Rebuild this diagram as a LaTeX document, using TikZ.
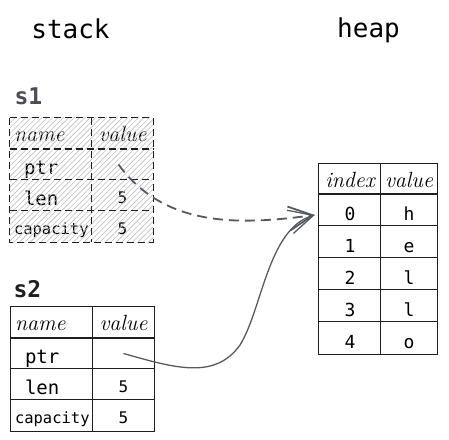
\documentclass[tikz,border=0pt]{standalone}
\usepackage{fontspec}
\setmonofont{DejaVu Sans Mono}
\usepackage{tikz}
\usetikzlibrary{arrows.meta,patterns.meta}

\definecolor{ink}{HTML}{1E1E1E}
\definecolor{pointer}{HTML}{555A62}
\definecolor{slabel}{HTML}{4A4D55}

\tikzset{
  title/.style={font=\fontsize{26}{26}\selectfont\ttfamily,anchor=base},
  var/.style={font=\fontsize{23}{23}\selectfont\ttfamily\bfseries,anchor=base west},
  namecell/.style={minimum width=82pt,minimum height=31pt,text width=74pt,align=left,inner sep=0pt},
  valcell/.style={minimum width=61pt,minimum height=31pt,inner sep=0pt},
  idxcell/.style={minimum width=62pt,minimum height=32pt,inner sep=0pt},
  hvalcell/.style={minimum width=56pt,minimum height=32pt,inner sep=0pt},
  hand/.style={font=\fontsize{22}{22}\selectfont\itshape,text height=16pt,text depth=0pt},
  code/.style={font=\fontsize{19}{19}\selectfont\ttfamily,text height=19pt,text depth=0pt},
  small code/.style={font=\fontsize{15.5}{15.5}\selectfont\ttfamily,text height=16pt,text depth=0pt},
  digit/.style={font=\fontsize{16}{16}\selectfont\ttfamily,text height=15pt,text depth=0pt},
  hcode/.style={font=\fontsize{18}{18}\selectfont\ttfamily,text height=21pt,text depth=0pt},
  grid/.style={draw=ink,line width=0.8pt},
  head/.style={draw=ink,line width=1.6pt},
  sdash/.style={draw=ink,line width=1.1pt,dash pattern=on 7pt off 4pt}
}

\begin{document}
\begin{tikzpicture}[x=1pt,y=-1pt]
\useasboundingbox (0,0) rectangle (449,439);

   \draw (70.5,38) node[title] (stack) {stack};
   \draw (368.5,37) node[title] (heap) {heap};

   \draw (11,104) node[var,text=slabel] (s1) {s1};
   \draw (51,133.5) node[namecell,hand] (s1name) {name};
     \draw (122.5,133.5) node[valcell,hand] (s1value) {value};
   \draw (51,164.5) node[namecell,code] (s1ptr) {\hspace*{10pt}ptr};
     \draw (122.5,164.5) node[valcell] (s1ptrv) {};
   \draw (51,195.5) node[namecell,code] (s1len) {\hspace*{10pt}len};
     \draw (122.5,195.5) node[valcell,digit] (s1lenv) {5};
   \draw (51,226.5) node[namecell,small code] (s1cap) {capacity};
     \draw (122.5,226.5) node[valcell,digit] (s1capv) {5};

   \draw (10,297) node[var,text=ink] (s2) {s2};
   \draw (52,322.5) node[namecell,hand] (s2name) {name};
     \draw (123.5,322.5) node[valcell,hand] (s2value) {value};
   \draw (52,353.5) node[namecell,code] (s2ptr) {\hspace*{10pt}ptr};
     \draw (123.5,353.5) node[valcell] (s2ptrv) {};
   \draw (52,384.5) node[namecell,code] (s2len) {\hspace*{10pt}len};
     \draw (123.5,384.5) node[valcell,digit] (s2lenv) {5};
   \draw (52,415.5) node[namecell,small code] (s2cap) {capacity};
     \draw (123.5,415.5) node[valcell,digit] (s2capv) {5};

   \draw (350,179) node[idxcell,minimum height=30pt,hand] (index) {index};
     \draw (409,179) node[hvalcell,minimum height=30pt,hand] (hvalue) {value};
   \draw (350,210) node[idxcell,hcode] (h0) {0};
     \draw (409,210) node[hvalcell,hcode] (c0) {h};
   \draw (350,242) node[idxcell,hcode] (h1) {1};
     \draw (409,242) node[hvalcell,hcode] (c1) {e};
   \draw (350,274) node[idxcell,hcode] (h2) {2};
     \draw (409,274) node[hvalcell,hcode] (c2) {l};
   \draw (350,306) node[idxcell,hcode] (h3) {3};
     \draw (409,306) node[hvalcell,hcode] (c3) {l};
   \draw (350,338) node[idxcell,hcode] (h4) {4};
     \draw (409,338) node[hvalcell,hcode] (c4) {o};

   \fill[pattern={Lines[angle=45,distance=3.8pt,line width=0.6pt]},pattern color=gray!50] (s1name.north west) rectangle (s1capv.south east);
   \draw[sdash] (s1name.north west) rectangle (s1capv.south east);
   \draw[sdash] (s1value.north west) -- (s1capv.south west);
   \draw[sdash,line width=1.8pt] (s1ptr.north west) -- (s1ptrv.north east);
   \draw[sdash] (s1len.north west) -- (s1lenv.north east);
   \draw[sdash] (s1cap.north west) -- (s1capv.north east);

   \draw[grid] (s2name.north west) rectangle (s2capv.south east);
   \draw[grid] (s2value.north west) -- (s2capv.south west);
   \draw[head] (s2ptr.north west) -- (s2ptrv.north east);
   \draw[grid] (s2len.north west) -- (s2lenv.north east);
   \draw[grid] (s2cap.north west) -- (s2capv.north east);

   \draw[grid] (index.north west) rectangle (c4.south east);
   \draw[grid] (hvalue.north west) -- (c4.south west);
   \draw[head] (h0.north west) -- (c0.north east);
   \draw[grid] (h1.north west) -- (c1.north east);
   \draw[grid] (h2.north west) -- (c2.north east);
   \draw[grid] (h3.north west) -- (c3.north east);
   \draw[grid] (h4.north west) -- (c4.north east);

       \draw[pointer,line width=1.8pt,dash pattern=on 10pt off 6pt,-{Straight Barb[length=24pt,width=24pt]}]
         ([xshift=-4pt]s1ptrv.center) .. controls (165,228) and (240,225) .. ([shift={(-4pt,-5pt)}]h0.west);
       \draw[pointer,line width=1.3pt,-{Straight Barb[length=24pt,width=24pt]}]
         (s2ptrv.center) .. controls (175,368) and (215,380) .. (240,345)
         .. controls (262,310) and (268,228) .. ([shift={(-4pt,-5pt)}]h0.west);

\end{tikzpicture}
\end{document}
